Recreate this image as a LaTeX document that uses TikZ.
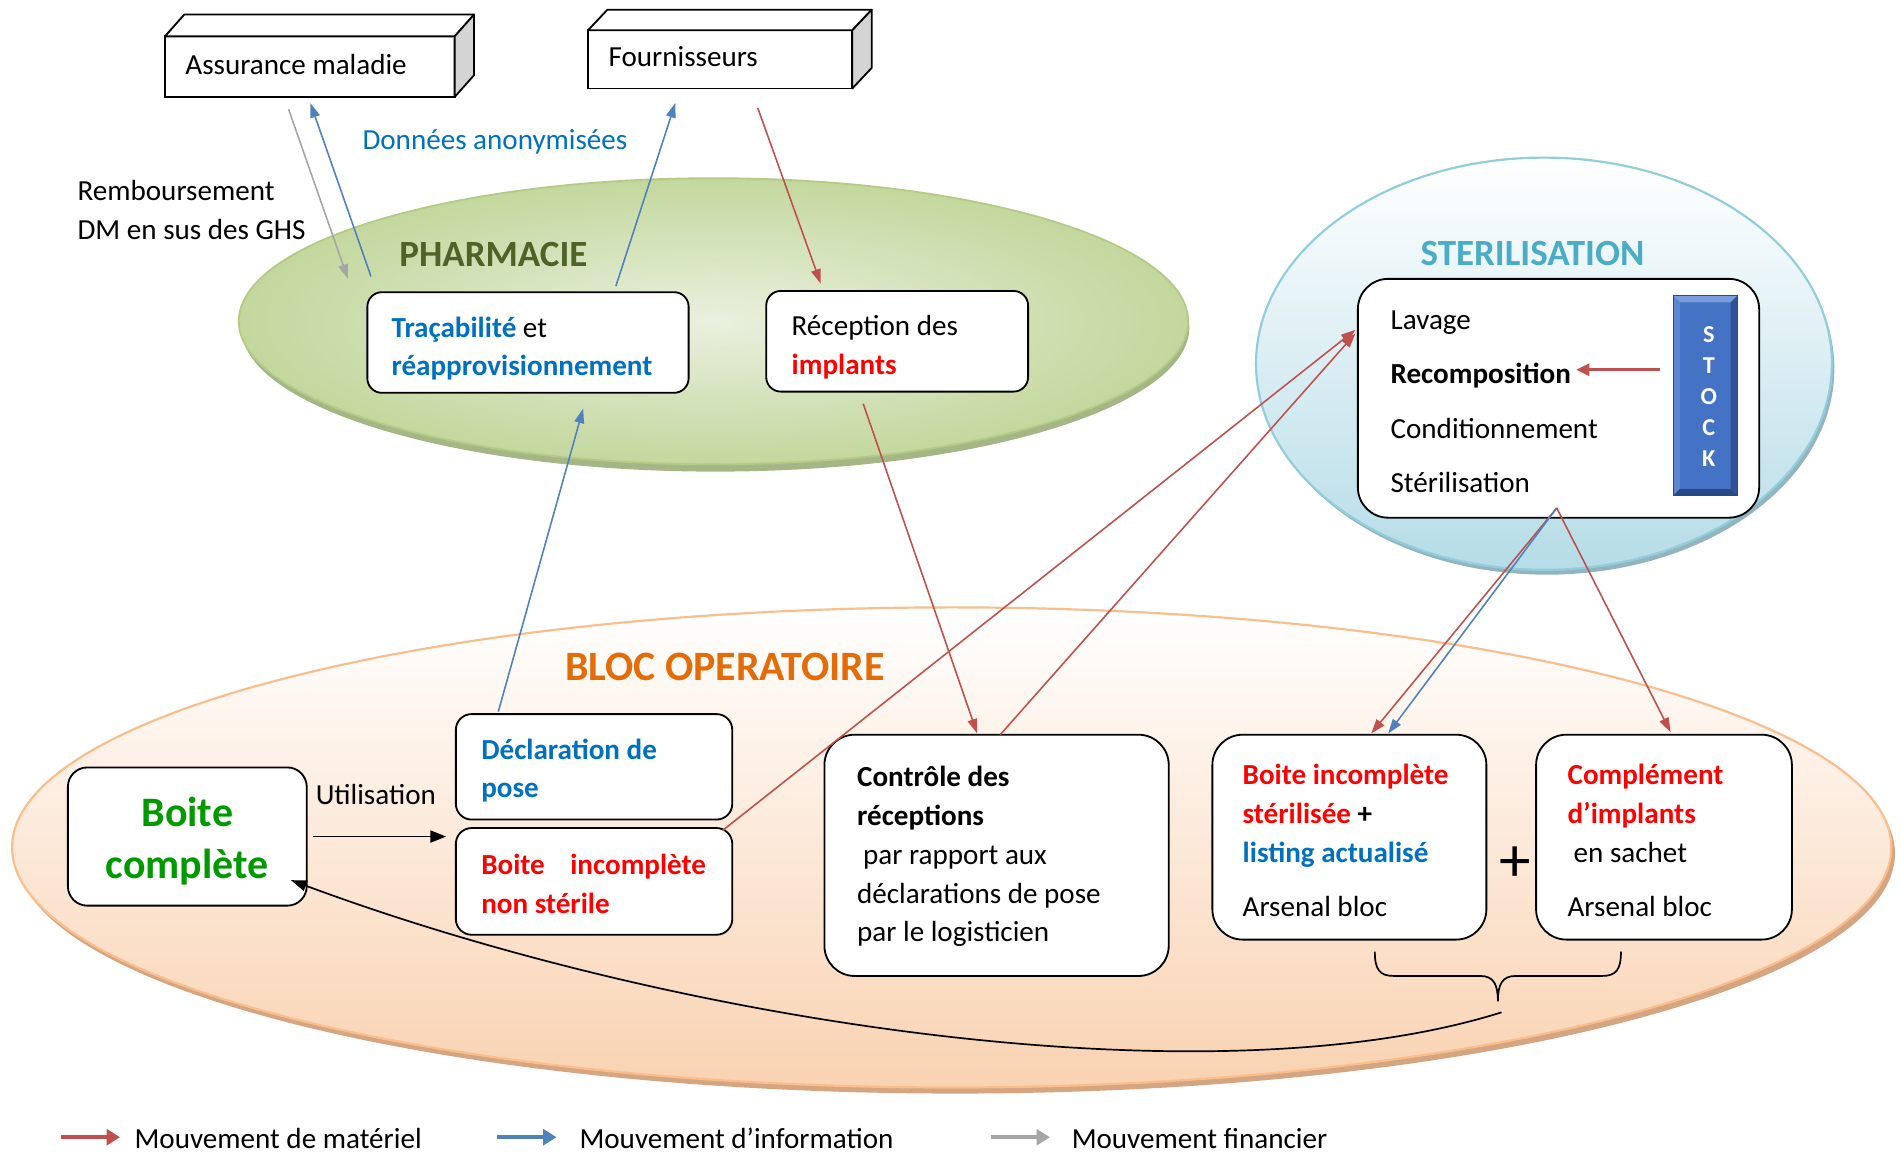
\documentclass[tikz,border=0pt]{standalone}
\usepackage{fontspec}
\setmainfont{Carlito}
\usetikzlibrary{arrows.meta,calc}
\definecolor{tblue}{HTML}{0070C0}
\definecolor{tred}{HTML}{FF0000}
\definecolor{tgreen}{HTML}{009A00}
\definecolor{pharmt}{HTML}{4F6228}
\definecolor{sterit}{HTML}{4BACC6}
\definecolor{bloct}{HTML}{E36C09}
\definecolor{ared}{HTML}{C0504D}
\definecolor{ablue}{HTML}{4F81BD}
\definecolor{agray}{HTML}{A6A6A6}
\definecolor{boxside}{HTML}{D4D4D4}
\definecolor{pharmin}{HTML}{E9F0DE}
\definecolor{pharmout}{HTML}{C3D79D}
\definecolor{pharmbd}{HTML}{B3CB86}
\definecolor{pharmsh}{HTML}{A4B685}
\definecolor{sterbot}{HTML}{B5DCE7}
\definecolor{sterbd}{HTML}{92CDDC}
\definecolor{stersh}{HTML}{93B4BF}
\definecolor{blocbot}{HTML}{F9D2B1}
\definecolor{blocbd}{HTML}{F9BE8C}
\definecolor{blocsh}{HTML}{D4A580}
\definecolor{stockc}{HTML}{4472C4}
\definecolor{stocklt}{HTML}{7B9CDC}
\definecolor{stockmid}{HTML}{5E85CF}
\definecolor{stockdk}{HTML}{2F5597}
\definecolor{stockdk2}{HTML}{294A86}
\begin{document}
\begin{tikzpicture}[x=1pt,y=-1pt,
  txt/.style={font=\fontsize{24}{32}\selectfont, inner sep=0pt, outer sep=0pt, align=left},
  rbox/.style={draw=black, line width=1.5pt, fill=white, rounded corners=#1, inner sep=0pt, outer sep=0pt},
  rbox/.default=14pt,
  flatbox/.style={draw=black, line width=1.5pt, fill=white, inner sep=0pt, outer sep=0pt},
  arr/.style={line width=1.3pt, -{Triangle[length=12pt,width=8pt]}},
  mat/.style={arr, ared},
  inf/.style={arr, ablue},
  fin/.style={arr, agray},
  legarr/.style={line width=3.5pt, -{Triangle[length=11pt,width=13pt]}},
  title/.style={font=\fontsize{30.5}{36}\selectfont\bfseries, inner sep=0pt},
]
\useasboundingbox (0,0) rectangle (1568,952);
\fill[white] (0,0) rectangle (1568,952);

% ---------- zones ----------
\fill[pharmsh] (590,270) ellipse [x radius=391pt, y radius=119pt];
\shade[inner color=pharmin, outer color=pharmout] (588.5,265) ellipse [x radius=391.5pt, y radius=118pt];
\draw[pharmbd, line width=1.5pt] (588.5,265) ellipse [x radius=391.5pt, y radius=118pt];

\fill[stersh] (1276,304) ellipse [x radius=237pt, y radius=170pt];
\shade[top color=white, bottom color=sterbot] (1273.5,300) ellipse [x radius=237.5pt, y radius=170pt];
\draw[sterbd, line width=1.8pt] (1273.5,300) ellipse [x radius=237.5pt, y radius=170pt];

\fill[blocsh] (788,704) ellipse [x radius=775pt, y radius=198pt];
\shade[top color=white, bottom color=blocbot] (785,699) ellipse [x radius=775pt, y radius=198pt];
\draw[blocbd, line width=1.8pt] (785,699) ellipse [x radius=775pt, y radius=198pt];

\node[title, text=pharmt] (tpharm) at (407,210) {PHARMACIE};
\node[title, text=sterit] (tster) at (1264,209) {STERILISATION};
\node[title, text=bloct, font=\fontsize{34.5}{40}\selectfont\bfseries] (tbloc) at (598,550) {BLOC OPERATOIRE};

% ---------- 3D boxes ----------
\node[flatbox, minimum width=239pt, minimum height=50pt] (assur) at (255.5,55) {};
\draw[line width=1.5pt, fill=white, line join=round] (assur.north west) -- ++(16,-18) -- ++(239,0) -- (assur.north east) -- cycle;
\draw[line width=1.5pt, fill=boxside, line join=round] (assur.north east) -- ++(16,-18) -- ++(0,50) -- (assur.south east) -- cycle;
\node[txt, anchor=west] (assurtxt) at ([xshift=17pt,yshift=2pt]assur.west) {Assurance maladie};

\node[flatbox, minimum width=218pt, minimum height=48pt] (four) at (594,49) {};
\draw[line width=1.5pt, fill=white, line join=round] (four.north west) -- ++(16,-17) -- ++(218,0) -- (four.north east) -- cycle;
\draw[line width=1.5pt, fill=boxside, line join=round] (four.north east) -- ++(16,-17) -- ++(0,48) -- (four.south east) -- cycle;
\node[txt, anchor=west] (fourtxt) at ([xshift=17pt,yshift=2pt]four.west) {Fournisseurs};

\node[txt, anchor=west] (rembours) at (64,173) {Remboursement\\DM en sus des GHS};
\node[txt, anchor=west, text=tblue] (donnees) at (299,117) {Données anonymisées};

% ---------- boxes ----------
\node[rbox=12pt, minimum width=265pt, minimum height=83pt] (trac) at (435.5,282.5) {};
\node[txt, anchor=west] (tractxt) at ([xshift=20pt,yshift=-5pt]trac.west)
  {\textcolor{tblue}{\bfseries Traçabilité} et\\\textcolor{tblue}{\bfseries réapprovisionnement}};

\node[rbox=12pt, minimum width=216pt, minimum height=83pt] (recep) at (740,281.5) {};
\node[txt, anchor=west] (receptxt) at ([xshift=21pt,yshift=-5pt]recep.west)
  {Réception des\\\textcolor{tred}{\bfseries implants}};

\node[rbox=25pt, minimum width=331pt, minimum height=197pt] (steri) at (1285.5,328.5) {};
\node[txt, anchor=west] (steritxt) at ([xshift=27pt,yshift=-3pt]steri.west)
  {Lavage\\[13pt]{\bfseries Recomposition}\\[13pt]Conditionnement\\[13pt]Stérilisation};

\node[fill=stockc, minimum width=53pt, minimum height=165pt, inner sep=0pt, outer sep=0pt] (stock) at (1406.5,326.5) {};
\fill[stocklt] (stock.north west) -- (stock.north east) -- ([xshift=-5.5pt,yshift=-5.5pt]stock.north east) -- ([xshift=5.5pt,yshift=-5.5pt]stock.north west) -- cycle;
\fill[stockmid] (stock.north west) -- ([xshift=5.5pt,yshift=-5.5pt]stock.north west) -- ([xshift=5.5pt,yshift=5.5pt]stock.south west) -- (stock.south west) -- cycle;
\fill[stockdk] (stock.north east) -- ([xshift=-5.5pt,yshift=-5.5pt]stock.north east) -- ([xshift=-5.5pt,yshift=5.5pt]stock.south east) -- (stock.south east) -- cycle;
\fill[stockdk2] (stock.south west) -- ([xshift=5.5pt,yshift=5.5pt]stock.south west) -- ([xshift=-5.5pt,yshift=5.5pt]stock.south east) -- (stock.south east) -- cycle;
\draw[stockdk2, line width=0.8pt] (stock.north west) rectangle (stock.south east);
\node[font=\fontsize{20}{25.7}\selectfont\bfseries, text=white, align=center, inner sep=0pt] (stocktxt) at (1409.5,327) {S\\T\\O\\C\\K};

\node[rbox=16pt, minimum width=197pt, minimum height=114pt] (boitec) at (154.5,690) {};
\node[inner sep=0pt, align=center, text=tgreen, font=\fontsize{34.6}{43}\selectfont\bfseries] (boitectxt) at (154.5,694) {Boite\\complète};

\node[rbox=13pt, minimum width=228pt, minimum height=87pt] (decl) at (490,632.5) {};
\node[txt, anchor=west, text=tblue, font=\fontsize{24}{32}\selectfont\bfseries] (decltxt) at ([xshift=21pt,yshift=-3pt]decl.west)
  {Déclaration de\\pose};

\node[rbox=13pt, minimum width=228pt, minimum height=88pt] (bins) at (490,727) {};
\node[txt, anchor=west, text=tred, font=\fontsize{24}{32}\selectfont\bfseries] (binstxt) at ([xshift=21pt,yshift=-2pt]bins.west)
  {Boite\hspace{21pt}incomplète\\non stérile};

\node[rbox=25pt, minimum width=284pt, minimum height=199pt] (ctrl) at (822,705.5) {};
\node[txt, anchor=west] (ctrltxt) at ([xshift=27pt,yshift=-1pt]ctrl.west)
  {{\bfseries Contrôle des}\\{\bfseries réceptions}\\\hspace*{5pt}par rapport aux\\déclarations de pose\\par le logisticien};

\node[rbox=25pt, minimum width=226pt, minimum height=169pt] (bster) at (1113,690.5) {};
\node[txt, anchor=west] (bstertxt) at ([xshift=25pt,yshift=-3pt]bster.west)
  {\textcolor{tred}{\bfseries Boite incomplète}\\\textcolor{tred}{\bfseries stérilisée} {\bfseries +}\\\textcolor{tblue}{\bfseries listing actualisé}\\[13pt]Arsenal bloc};

\node[rbox=25pt, minimum width=211pt, minimum height=169pt] (compl) at (1372.5,690.5) {};
\node[txt, anchor=west] (compltxt) at ([xshift=26pt,yshift=-3pt]compl.west)
  {\textcolor{tred}{\bfseries Complément}\\\textcolor{tred}{\bfseries d’implants}\\\hspace*{5pt}en sachet\\[13pt]Arsenal bloc};

\node[inner sep=0pt, font=\fontsize{52}{52}\selectfont] (plus) at (1250,713) {+};

% ---------- connectors ----------
\draw[fin] ([xshift=102pt,yshift=-10pt]assur.south west) -- ([xshift=-16pt,yshift=11pt]trac.north west);
\draw[inf] ([xshift=3pt,yshift=13pt]trac.north west) -- ([xshift=120pt,yshift=-5pt]assur.south west);
\draw[inf] ([xshift=205pt,yshift=5pt]trac.north west) -- ([xshift=72pt,yshift=-12pt]four.south west);
\draw[mat] ([xshift=140pt,yshift=-16pt]four.south west) -- ([xshift=45pt,yshift=6pt]recep.north west);
\draw[inf] ([xshift=35pt,yshift=2pt]decl.north west) -- ([xshift=178pt,yshift=-13pt]trac.south west);
\draw[mat] ([xshift=80pt,yshift=-10pt]recep.south west) -- ([xshift=126pt,yshift=1pt]ctrl.north west);
\draw[mat] ([xshift=-8pt,yshift=-2pt]bins.north east) -- ([xshift=-2pt,yshift=-42pt]steri.north west);
\draw[mat] ([xshift=145pt]ctrl.north west) -- ([xshift=-2pt,yshift=-45pt]steri.north west);
\coordinate (sterout) at ([xshift=164pt,yshift=8pt]steri.south west);
\draw[mat] (sterout) -- ([xshift=131pt,yshift=1pt]bster.north west);
\draw[inf] (sterout) -- ([xshift=145pt,yshift=1pt]bster.north west);
\draw[mat] (sterout) -- ([xshift=111pt,yshift=2pt]compl.north west);
\coordinate (recompend) at (1300,305);
\draw[ared, line width=2.2pt, -{Triangle[length=11pt,width=10pt]}] ([xshift=-11pt,yshift=21.5pt]stock.west) -- (recompend);

\draw[line width=1.3pt, -{Triangle[length=13pt,width=10pt]}] ([xshift=5pt]boitec.east) -- ([xshift=-8pt,yshift=-7pt]bins.north west);
\node[txt] (utilisation) at (310,655) {Utilisation};

% brace
\coordinate (brl) at (1134,785);
\coordinate (brr) at (1337,785);
\coordinate (brtip) at (1235.5,826);
\draw[line width=1.4pt] (brl) .. controls (1134,800) and (1138,805) .. (1150,805) -- (1221,805)
  .. controls (1232,805) and (1235.5,812) .. (brtip)
  .. controls (1235.5,812) and (1239,805) .. (1250,805) -- (1321,805)
  .. controls (1333,805) and (1337,800) .. (brr);
\coordinate (cstart) at (1238.5,835);
\draw[line width=1.4pt, -{Triangle[length=13pt,width=9pt]}] (cstart) .. controls (1000,910) and (560,845) .. ([xshift=-13pt,yshift=21pt]boitec.south east);

% ---------- legend ----------
\coordinate (l1a) at (50,938); \coordinate (l1b) at (99,938);
\coordinate (l2a) at (410,938); \coordinate (l2b) at (459,938);
\coordinate (l3a) at (817,938); \coordinate (l3b) at (866,938);
\draw[legarr, ared] (l1a) -- (l1b);
\draw[legarr, ablue] (l2a) -- (l2b);
\draw[legarr, agray] (l3a) -- (l3b);
\node[txt, anchor=base west] (leg1) at (111,947) {Mouvement de matériel};
\node[txt, anchor=base west] (leg2) at (478,947) {Mouvement d’information};
\node[txt, anchor=base west] (leg3) at (884,947) {Mouvement financier};
\end{tikzpicture}
\end{document}
